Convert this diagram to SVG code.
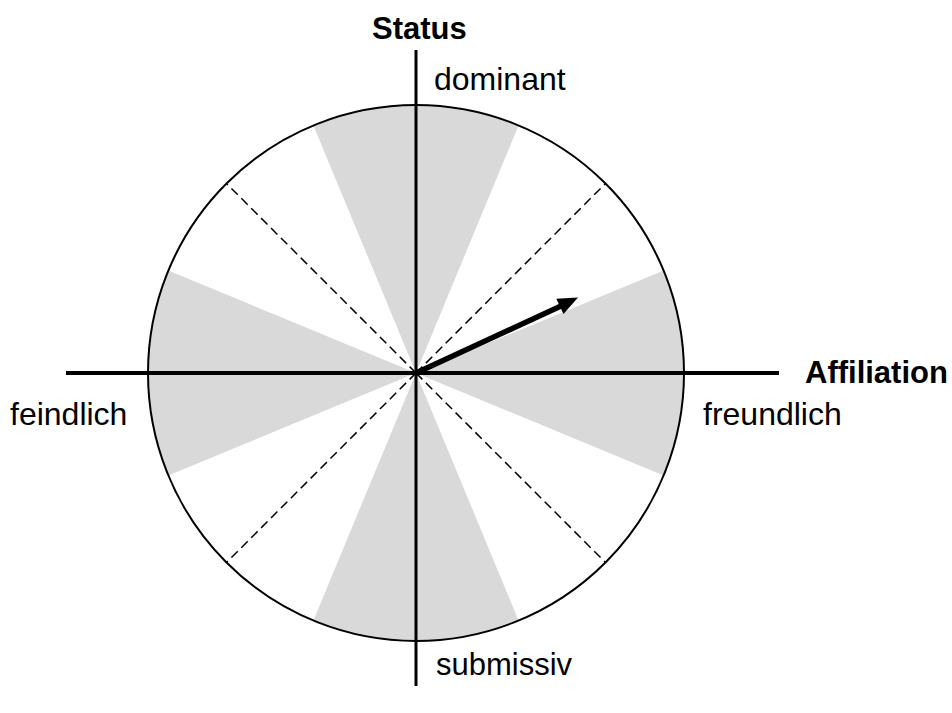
<svg xmlns="http://www.w3.org/2000/svg" width="952" height="713" viewBox="0 0 952 713">
<style>
.wedge{fill:#d9d9d9;stroke:none}
.dash{stroke:#000;stroke-width:1.5;stroke-dasharray:9 5;fill:none}
.axis{stroke:#000;fill:none}
.lbl{font-family:"Liberation Sans",Arial,sans-serif;font-size:32px;fill:#000}
.bold{font-weight:bold;font-size:31px}
</style>
<rect width="952" height="713" fill="#fff"/>
<g id="sectors">
<path class="wedge" d="M416,373 L663.6,270.44 A268,268 0 0 1 663.6,475.56 Z"/>
<path class="wedge" d="M416,373 L313.44,125.4 A268,268 0 0 1 518.56,125.4 Z"/>
<path class="wedge" d="M416,373 L168.4,475.56 A268,268 0 0 1 168.4,270.44 Z"/>
<path class="wedge" d="M416,373 L518.56,620.6 A268,268 0 0 1 313.44,620.6 Z"/>
</g>
<g id="circle">
<circle cx="416" cy="373" r="268" fill="none" stroke="#000" stroke-width="2"/>
</g>
<g id="connectors">
<line class="dash" x1="416" y1="373" x2="605.5" y2="183.5"/>
<line class="dash" x1="416" y1="373" x2="226.5" y2="183.5"/>
<line class="dash" x1="416" y1="373" x2="226.5" y2="562.5"/>
<line class="dash" x1="416" y1="373" x2="605.5" y2="562.5"/>
<line class="axis" x1="66" y1="373" x2="779" y2="373" stroke-width="4"/>
<line class="axis" x1="416" y1="50" x2="416" y2="686" stroke-width="3"/>
<line x1="416" y1="373" x2="561" y2="306" stroke="#000" stroke-width="5.5"/>
<polygon points="578,297.5 563.5,314.1 556.3,298.7" fill="#000"/>
</g>
<g id="labels">
<text class="lbl bold" x="372" y="39">Status</text>
<text class="lbl" x="434" y="90">dominant</text>
<text class="lbl bold" x="805" y="383">Affiliation</text>
<text class="lbl" x="10" y="425">feindlich</text>
<text class="lbl" x="703" y="425">freundlich</text>
<text class="lbl" x="436" y="675" style="font-size:31px">submissiv</text>
</g>
</svg>
